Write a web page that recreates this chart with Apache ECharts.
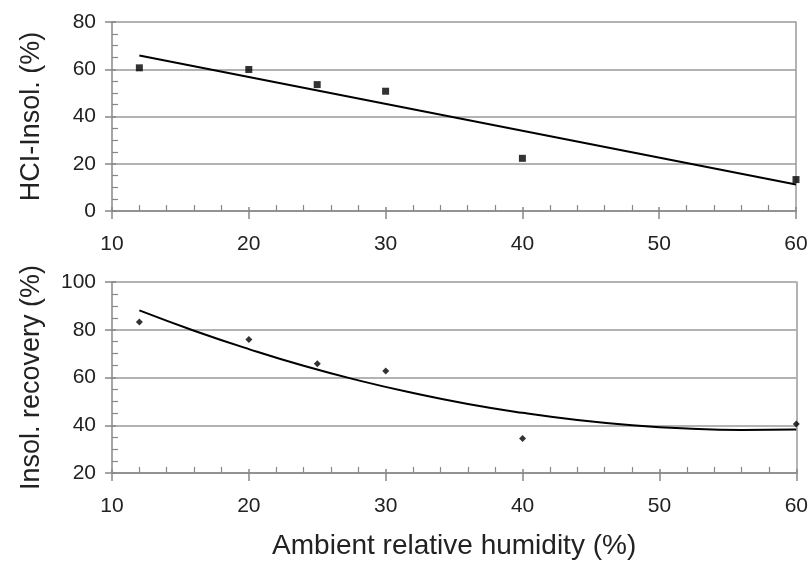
<!DOCTYPE html>
<html>
<head>
<meta charset="utf-8">
<script src="https://cdn.jsdelivr.net/npm/echarts@6/dist/echarts.min.js"></script>
<style>
  html, body { margin: 0; padding: 0; background: #fff; }
  #chart { width: 811px; height: 562px; }
</style>
</head>
<body>
<div id="chart"></div>
<script>
// measured points (ambient RH %)
const humidity = [12, 20, 25, 30, 40, 60];
const hciInsol = [60.6, 59.9, 53.5, 50.7, 22.3, 13.3];      // HCI-Insol. (%)
const insolRecovery = [83.2, 75.9, 65.8, 62.7, 34.5, 40.5]; // Insol. recovery (%)

// trend lines
const hciTrendX = [12, 60];
const hciTrendY = [65.8, 11.2];
const recTrendX = [12, 16, 20, 24, 28, 32, 36, 40, 44, 48, 52, 56, 60];
const recTrendY = [88.1, 79.6, 71.9, 64.9, 58.8, 53.5, 48.9, 45.2, 42.2, 40.0, 38.6, 38.0, 38.2];

const FONT = "Liberation Sans, Arial, sans-serif";
const TXT = "#222";
const AXIS = "#888";
const GRID = "#9a9a9a";

const pairs = (xs, ys) => xs.map((x, i) => [x, ys[i]]);

// main x axis: labels + major ticks
function xMain(gridIndex, name) {
  return {
    type: "value", gridIndex, min: 10, max: 60, interval: 10, position: "bottom",
    axisLine: { show: true, lineStyle: { color: AXIS, width: 1.5 } },
    axisTick: { show: true, length: 8, lineStyle: { color: AXIS, width: 1.5 } },
    axisLabel: { color: TXT, fontSize: 21, fontFamily: FONT, margin: 23 },
    splitLine: { show: false },
    name: name || "",
    nameLocation: "middle",
    nameGap: 59,
    nameTextStyle: { color: TXT, fontSize: 28, fontFamily: FONT }
  };
}
// overlay x axis: minor ticks inside
function xMinor(gridIndex) {
  return {
    type: "value", gridIndex, min: 10, max: 60, interval: 10, position: "bottom",
    axisLine: { show: false },
    axisTick: { show: true, inside: true, length: 4, lineStyle: { color: AXIS, width: 1.5 } },
    minorTick: { show: true, splitNumber: 5, length: 6, lineStyle: { color: AXIS, width: 1.2 } },
    axisLabel: { show: false },
    splitLine: { show: false }
  };
}
function yMain(gridIndex, min, max, name) {
  return {
    type: "value", gridIndex, min, max, interval: 20, position: "left",
    axisLine: { show: true, lineStyle: { color: AXIS, width: 1.5 } },
    axisTick: { show: true, length: 7, lineStyle: { color: AXIS, width: 1.5 } },
    axisLabel: { color: TXT, fontSize: 21, fontFamily: FONT, margin: 16 },
    splitLine: { show: true, lineStyle: { color: GRID, width: 1.5 } },
    name,
    nameLocation: "middle",
    nameGap: 67,
    nameTextStyle: { color: TXT, fontSize: 27, fontFamily: FONT }
  };
}
function yMinor(gridIndex, min, max) {
  return {
    type: "value", gridIndex, min, max, interval: 20, position: "left",
    axisLine: { show: false },
    axisTick: { show: true, inside: true, length: 4, lineStyle: { color: AXIS, width: 1.5 } },
    minorTick: { show: true, splitNumber: 4, length: 6, lineStyle: { color: AXIS, width: 1.2 } },
    axisLabel: { show: false },
    splitLine: { show: false }
  };
}
// plain right border
function yRight(gridIndex, min, max) {
  return {
    type: "value", gridIndex, min, max, interval: 20, position: "right",
    axisLine: { show: true, lineStyle: { color: GRID, width: 1.5 } },
    axisTick: { show: false }, axisLabel: { show: false }, splitLine: { show: false }
  };
}

const chart = echarts.init(document.getElementById("chart"), null, { renderer: "canvas" });
chart.setOption({
  animation: false,
  backgroundColor: "#fff",
  grid: [
    { left: 112, right: 15, top: 22, height: 189 },
    { left: 112, right: 14, top: 282, height: 191 }
  ],
  xAxis: [xMain(0), xMinor(0), xMain(1, "Ambient relative humidity (%)"), xMinor(1)],
  yAxis: [
    yMain(0, 0, 80, "HCI-Insol. (%)"), yMinor(0, 0, 80), yRight(0, 0, 80),
    yMain(1, 20, 100, "Insol. recovery (%)"), yMinor(1, 20, 100), yRight(1, 20, 100)
  ],
  series: [
    {
      type: "line", xAxisIndex: 0, yAxisIndex: 0,
      data: pairs(hciTrendX, hciTrendY),
      showSymbol: false, lineStyle: { color: "#000", width: 2 }, z: 3
    },
    {
      type: "scatter", xAxisIndex: 0, yAxisIndex: 0, clip: false,
      data: pairs(humidity, hciInsol),
      symbol: "rect", symbolSize: 7, itemStyle: { color: "#000" }, z: 4
    },
    {
      type: "line", xAxisIndex: 2, yAxisIndex: 3,
      data: pairs(recTrendX, recTrendY),
      smooth: true, showSymbol: false, lineStyle: { color: "#000", width: 2 }, z: 3
    },
    {
      type: "scatter", xAxisIndex: 2, yAxisIndex: 3, clip: false,
      data: pairs(humidity, insolRecovery),
      symbol: "diamond", symbolSize: 7, itemStyle: { color: "#000" }, z: 4
    }
  ]
});
</script>
</body>
</html>
